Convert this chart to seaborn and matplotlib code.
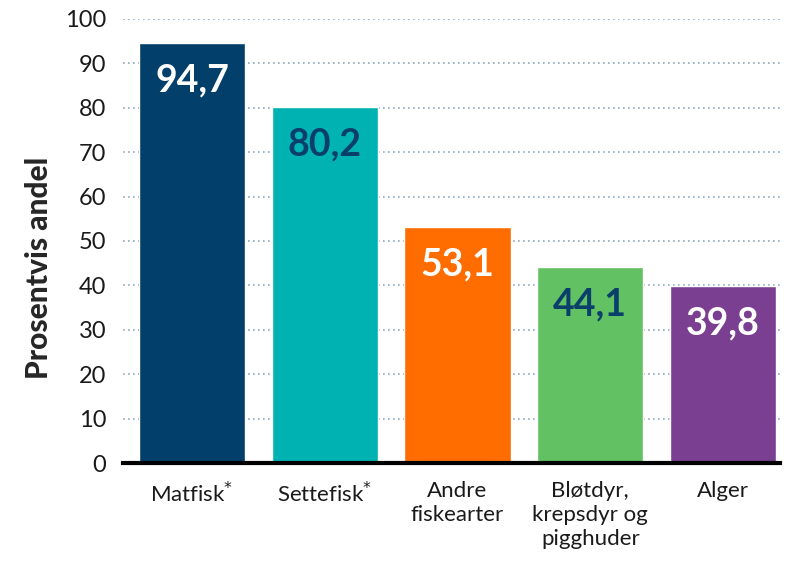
import pandas as pd
import matplotlib.pyplot as plt
import seaborn as sns

# Data
categories = ["Matfisk$^{*}$", "Settefisk$^{*}$", "Andre\nfiskearter",
              "Bløtdyr,\nkrepsdyr og\npigghuder", "Alger"]
values = [94.7, 80.2, 53.1, 44.1, 39.8]
bar_colors = ["#02406B", "#00B2B2", "#FF6D00", "#62C162", "#7B3F91"]
label_colors = ["white", "#0A3F6B", "white", "#0A3F6B", "white"]

df = pd.DataFrame({"Kategori": categories, "Andel": values})

sns.set_theme(style="white")
plt.rcParams["font.family"] = ["Lato", "DejaVu Sans"]

fig = plt.figure(figsize=(7.87, 5.63), dpi=100)
ax = fig.add_axes([0.1563, 0.1776, 0.835, 0.7887])

sns.barplot(data=df, x="Kategori", y="Andel", hue="Kategori",
            palette=bar_colors, legend=False, width=0.8, saturation=1,
            ax=ax, zorder=3)

ax.set_ylim(0, 100)
ax.set_xlim(-0.52, 4.43)
ax.set_yticks(range(0, 101, 10))
ax.yaxis.grid(True, linestyle=(0, (1, 2)), color="#8FA8BE", linewidth=1.2)
ax.set_axisbelow(True)

for side in ["top", "right", "left"]:
    ax.spines[side].set_visible(False)
ax.spines["bottom"].set_color("black")
ax.spines["bottom"].set_linewidth(3)
ax.spines["bottom"].set_zorder(5)

ax.tick_params(axis="y", length=0, labelsize=17, pad=12, labelcolor="#1a1a1a")
ax.tick_params(axis="x", length=0, labelsize=16, pad=13, labelcolor="#1a1a1a")
for lbl in ax.get_xticklabels():
    lbl.set_linespacing(1.25)
ax.set_xlabel("")
ax.set_ylabel("Prosentvis andel", fontsize=21.5, fontweight="black")
ax.yaxis.set_label_coords(-0.106, 0.44)

# value labels inside top of each bar
for i, (p, v) in enumerate(zip(ax.patches, values)):
    ax.annotate(f"{v:.1f}".replace(".", ","),
                (p.get_x() + p.get_width() / 2, p.get_height()),
                xytext=(0, -27), textcoords="offset points",
                ha="center", va="center", fontsize=27, fontweight="bold",
                color=label_colors[i], zorder=6)

fig.savefig("out.png", dpi=100)
